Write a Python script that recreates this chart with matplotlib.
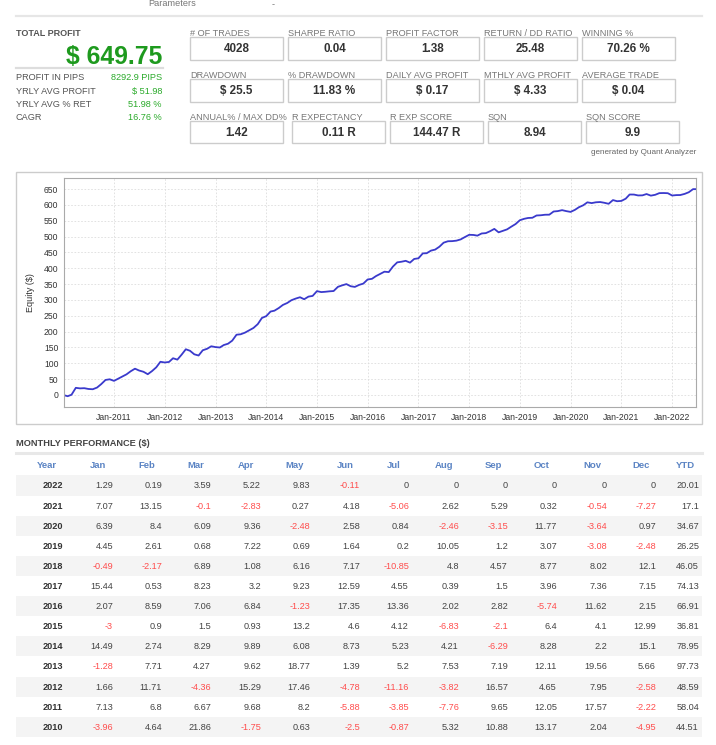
import matplotlib
matplotlib.use("Agg")
import matplotlib.pyplot as plt
from matplotlib.patches import Rectangle
from matplotlib.lines import Line2D
import datetime as dt

plt.rcParams['font.family'] = ['Liberation Sans', 'DejaVu Sans']

W, H = 716, 745

# ---------------- data ----------------
total_profit = "$ 649.75"
left_labels = ["PROFIT IN PIPS", "YRLY AVG PROFIT", "YRLY AVG % RET", "CAGR"]
left_values = ["8292.9 PIPS", "$ 51.98", "51.98 %", "16.76 %"]

stat_labels_r1 = ["# OF TRADES", "SHARPE RATIO", "PROFIT FACTOR", "RETURN / DD RATIO", "WINNING %"]
stat_values_r1 = ["4028", "0.04", "1.38", "25.48", "70.26 %"]
stat_labels_r2 = ["DRAWDOWN", "% DRAWDOWN", "DAILY AVG PROFIT", "MTHLY AVG PROFIT", "AVERAGE TRADE"]
stat_values_r2 = ["$ 25.5", "11.83 %", "$ 0.17", "$ 4.33", "$ 0.04"]
stat_labels_r3 = ["ANNUAL% / MAX DD%", "R EXPECTANCY", "R EXP SCORE", "SQN", "SQN SCORE"]
stat_values_r3 = ["1.42", "0.11 R", "144.47 R", "8.94", "9.9"]

months = ["Jan", "Feb", "Mar", "Apr", "May", "Jun", "Jul", "Aug", "Sep", "Oct", "Nov", "Dec"]
years = [2022, 2021, 2020, 2019, 2018, 2017, 2016, 2015, 2014, 2013, 2012, 2011, 2010]
m2022 = [1.29, 0.19, 3.59, 5.22, 9.83, -0.11, 0, 0, 0, 0, 0, 0]
m2021 = [7.07, 13.15, -0.1, -2.83, 0.27, 4.18, -5.06, 2.62, 5.29, 0.32, -0.54, -7.27]
m2020 = [6.39, 8.4, 6.09, 9.36, -2.48, 2.58, 0.84, -2.46, -3.15, 11.77, -3.64, 0.97]
m2019 = [4.45, 2.61, 0.68, 7.22, 0.69, 1.64, 0.2, 10.05, 1.2, 3.07, -3.08, -2.48]
m2018 = [-0.49, -2.17, 6.89, 1.08, 6.16, 7.17, -10.85, 4.8, 4.57, 8.77, 8.02, 12.1]
m2017 = [15.44, 0.53, 8.23, 3.2, 9.23, 12.59, 4.55, 0.39, 1.5, 3.96, 7.36, 7.15]
m2016 = [2.07, 8.59, 7.06, 6.84, -1.23, 17.35, 13.36, 2.02, 2.82, -5.74, 11.62, 2.15]
m2015 = [-3, 0.9, 1.5, 0.93, 13.2, 4.6, 4.12, -6.83, -2.1, 6.4, 4.1, 12.99]
m2014 = [14.49, 2.74, 8.29, 9.89, 6.08, 8.73, 5.23, 4.21, -6.29, 8.28, 2.2, 15.1]
m2013 = [-1.28, 7.71, 4.27, 9.62, 18.77, 1.39, 5.2, 7.53, 7.19, 12.11, 19.56, 5.66]
m2012 = [1.66, 11.71, -4.36, 15.29, 17.46, -4.78, -11.16, -3.82, 16.57, 4.65, 7.95, -2.58]
m2011 = [7.13, 6.8, 6.67, 9.68, 8.2, -5.88, -3.85, -7.76, 9.65, 12.05, 17.57, -2.22]
m2010 = [-3.96, 4.64, 21.86, -1.75, 0.63, -2.5, -0.87, 5.32, 10.88, 13.17, 2.04, -4.95]
ytd = [20.01, 17.1, 34.67, 26.25, 46.05, 74.13, 66.91, 36.81, 78.95, 97.73, 48.59, 58.04, 44.51]
monthly = [m2022, m2021, m2020, m2019, m2018, m2017, m2016, m2015, m2014, m2013, m2012, m2011, m2010]

x_tick_labels = ["Jan-%d" % y for y in range(2011, 2023)]
y_ticks = list(range(0, 651, 50))

# ---------------- helpers ----------------
fig = plt.figure(figsize=(W / 100, H / 100), dpi=100)
fig.patch.set_facecolor("white")

def fx(x):
    return x / W

def fy(y):
    return 1 - y / H

def txt(x, y, s, **kw):
    kw.setdefault("va", "center")
    fig.text(fx(x), fy(y), s, **kw)

def hline(x0, x1, y, color, lw):
    fig.add_artist(Line2D([fx(x0), fx(x1)], [fy(y), fy(y)], color=color, lw=lw,
                          transform=fig.transFigure))

def rect(x0, y0, x1, y1, fc, ec="none", lw=0, z=0):
    fig.add_artist(Rectangle((fx(x0), fy(y1)), fx(x1) - fx(x0), fy(y0) - fy(y1),
                             facecolor=fc, edgecolor=ec, lw=lw,
                             transform=fig.transFigure, zorder=z))

# ---------------- header ----------------
txt(148, 4, "Parameters", fontsize=6.6, color="#777777", ha="left")
txt(272, 5, "-", fontsize=6.6, color="#777777", ha="left")
hline(16, 702, 16, "#e6e6e6", 1.6)

txt(16, 33, "TOTAL PROFIT", fontsize=6.5, fontweight="bold", color="#555555", ha="left")
txt(162, 56.5, total_profit, fontsize=17.8, fontweight="bold", color="#1e9a1e", ha="right")
hline(16, 163, 68, "#dddddd", 1.6)
for i, (lab, val) in enumerate(zip(left_labels, left_values)):
    yy = 78 + 13.3 * i
    txt(16, yy, lab, fontsize=6.6, color="#555555", ha="left")
    txt(162, yy, val, fontsize=6.6, color="#2aaa2a", ha="right")

box_w = 93
rows = [
    (33, 37, 60, [190, 288, 386, 484, 582], stat_labels_r1, stat_values_r1),
    (75, 79, 102, [190, 288, 386, 484, 582], stat_labels_r2, stat_values_r2),
    (117, 121, 143, [190, 292, 390, 488, 586], stat_labels_r3, stat_values_r3),
]
for ly, by0, by1, xs, labs, vals in rows:
    for x0, lab, val in zip(xs, labs, vals):
        txt(x0, ly, lab, fontsize=6.6, color="#777777", ha="left")
        rect(x0, by0, x0 + box_w, by1, "white", "#cccccc", 1.0, z=1)
        txt(x0 + box_w / 2, (by0 + by1) / 2 + 0.5, val, fontsize=8.4, fontweight="bold",
            color="#333333", ha="center")

txt(696, 153, "generated by Quant Analyzer", fontsize=5.9, color="#666666", ha="right")

# ---------------- equity chart ----------------
rect(16, 172, 702, 424, "white", "#cccccc", 1.0, z=0)
ax = fig.add_axes([fx(64), fy(407), fx(696) - fx(64), fy(178) - fy(407)])

chron = [m2010, m2011, m2012, m2013, m2014, m2015, m2016, m2017, m2018, m2019, m2020, m2021, m2022[:6]]
dates = [dt.date(2010, 1, 1)]
equity = [0.0]
cum = 0.0
for yi, vals in enumerate(chron):
    year = 2010 + yi
    for mi, v in enumerate(vals):
        cum += v
        nm = mi + 2
        ny = year
        if nm > 12:
            nm = 1
            ny += 1
        dates.append(dt.date(ny, nm, 1))
        equity.append(cum)

ax.plot(dates, equity, color="#3a3acc", lw=1.3)
ax.set_xlim(dt.date(2010, 1, 6), dt.date(2022, 6, 22))
ax.set_ylim(-38, 685)
ax.set_yticks(y_ticks)
ax.set_yticklabels([str(v) for v in y_ticks])
xt = [dt.date(y, 1, 1) for y in range(2011, 2023)]
ax.set_xticks(xt)
ax.set_xticklabels(x_tick_labels)
ax.tick_params(axis="both", length=0, labelsize=6.2, colors="#333333", pad=4)
ax.grid(True, color="#dddddd", linestyle=(0, (2, 2)), lw=0.6)
for s in ax.spines.values():
    s.set_color("#aaaaaa")
    s.set_linewidth(0.8)
ax.set_ylabel("Equity ($)", fontsize=6.5, color="#333333", labelpad=6)

# ---------------- monthly table ----------------
txt(16, 443, "MONTHLY PERFORMANCE ($)", fontsize=6.7, fontweight="bold", color="#444444", ha="left")
hline(16, 702, 453, "#e8e8e8", 2.2)

hdr_col = "#5b84c4"
right_edges = [113, 162, 211, 261, 310, 360, 409, 459, 508, 557, 607, 656]
txt(47, 465, "Year", fontsize=6.8, fontweight="bold", color=hdr_col, ha="center")
for m, r in zip(months, right_edges):
    txt(r - 15, 465, m, fontsize=6.8, fontweight="bold", color=hdr_col, ha="center")
txt(685, 465, "YTD", fontsize=6.8, fontweight="bold", color=hdr_col, ha="center")

def fmt(v):
    return "%g" % v

for i, (yr, vals, yt) in enumerate(zip(years, monthly, ytd)):
    cy = 486 + 20.1 * i
    if i % 2 == 0:
        rect(16, cy - 10.5, 702, cy + 9.5, "#f4f4f4", z=0)
    txt(63, cy, str(yr), fontsize=6.6, fontweight="bold", color="#333333", ha="right")
    for v, r in zip(vals, right_edges):
        col = "#ff4d4d" if v < 0 else "#444444"
        txt(r, cy, fmt(v), fontsize=6.6, color=col, ha="right")
    txt(699, cy, fmt(yt), fontsize=6.6, color="#ff4d4d" if yt < 0 else "#444444", ha="right")

fig.savefig("out.png", dpi=100, facecolor="white")
